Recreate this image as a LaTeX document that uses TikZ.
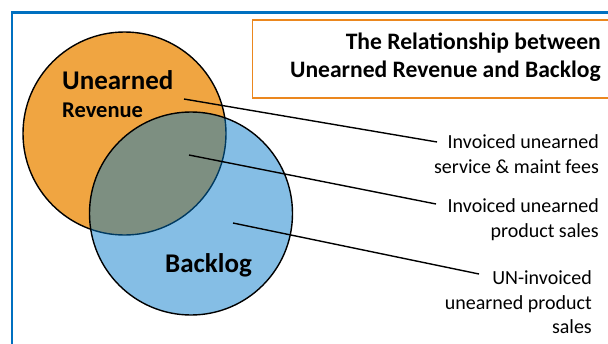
\documentclass[tikz,border=0pt]{standalone}
\usepackage{fontspec}
\setmainfont{Carlito}
\definecolor{frameblue}{RGB}{0,112,192}
\definecolor{boxorange}{RGB}{235,135,30}
\definecolor{urfill}{RGB}{240,165,65}
\definecolor{blfill}{RGB}{0,120,200}
\tikzset{
  venn/.style={circle, minimum size=203pt, inner sep=0pt},
  lab/.style={align=right, inner sep=0pt, font=\fontsize{20}{24.5}\selectfont},
  big/.style={inner sep=0pt, font=\bfseries\fontsize{27}{30}\selectfont},
  leader/.style={line width=1.4pt, black},
}
\begin{document}
\begin{tikzpicture}[x=1pt,y=-1pt]
\useasboundingbox (0,0) rectangle (608,343);
\clip (0,0) rectangle (608,343);
% outer frame
\draw[frameblue, line width=2.6pt] (12,350) -- (12,12.2) -- (620,12.2);
% title box
\draw[boxorange, line width=1.6pt] (252.5,20) rectangle (620,98);
\node[anchor=base east, align=right, inner sep=0pt, font=\bfseries\fontsize{23.6}{28.5}\selectfont] (title) at (601,77.5) {The Relationship between\\Unearned Revenue and Backlog};
% circles
\node[venn, fill=urfill] (ur) at (124.5,133.5) {};
\draw[line width=1.4pt] (ur.center) circle (101.5);
\node[venn, fill=blfill, fill opacity=0.48] (bl) at (191,213.5) {};
\draw[line width=1.4pt] (bl.center) circle (101.5);
% circle labels
\node[big, anchor=base west] (un) at (62,89) {Unearned};
\node[inner sep=0pt, font=\bfseries\fontsize{22.5}{26}\selectfont, anchor=base west] (rev) at (62,117) {Revenue};
\node[big, anchor=base west] (bk) at (165,272) {Backlog};
% labels
\node[lab, anchor=base east] (l1) at (599,173) {Invoiced unearned\\service \& maint fees};
\node[lab, anchor=base east] (l2) at (599,237.2) {Invoiced unearned\\product sales};
\node[lab, anchor=base east] (l3) at (592,333.7) {UN-invoiced\\unearned product\\sales};
% leader lines
\coordinate (a1) at (184,99);
\coordinate (b1) at (437,142);
\coordinate (a2) at (189,155);
\coordinate (b2) at (436,204);
\coordinate (a3) at (233,223);
\coordinate (b3) at (479,274);
\draw[leader] (a1) -- (b1);
\draw[leader] (a2) -- (b2);
\draw[leader] (a3) -- (b3);
\end{tikzpicture}
\end{document}
